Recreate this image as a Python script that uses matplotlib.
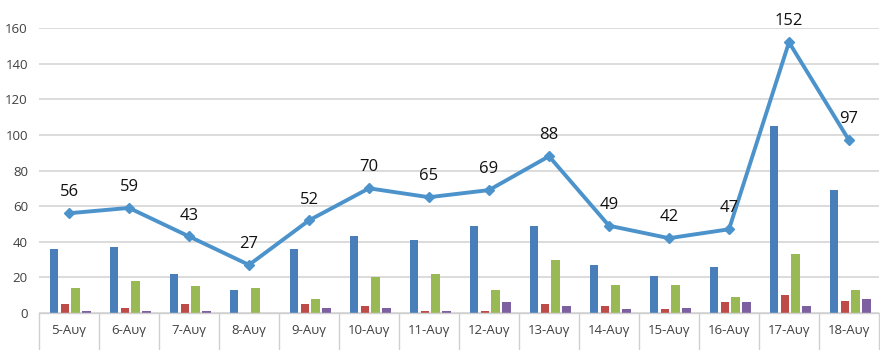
import matplotlib
matplotlib.use("Agg")
import matplotlib.pyplot as plt
import numpy as np

plt.rcParams['font.family'] = ['Open Sans', 'DejaVu Sans']

# Daily data
dates = ["5-Αυγ", "6-Αυγ", "7-Αυγ", "8-Αυγ", "9-Αυγ", "10-Αυγ", "11-Αυγ",
         "12-Αυγ", "13-Αυγ", "14-Αυγ", "15-Αυγ", "16-Αυγ", "17-Αυγ", "18-Αυγ"]
series_blue = [36, 37, 22, 13, 36, 43, 41, 49, 49, 27, 21, 26, 105, 69]
series_red = [5, 3, 5, 0, 5, 4, 1, 1, 5, 4, 2, 6, 10, 7]
series_green = [14, 18, 15, 14, 8, 20, 22, 13, 30, 16, 16, 9, 33, 13]
series_purple = [1, 1, 1, 0, 3, 3, 1, 6, 4, 2, 3, 6, 4, 8]
totals = [56, 59, 43, 27, 52, 70, 65, 69, 88, 49, 42, 47, 152, 97]
y_ticks = [0, 20, 40, 60, 80, 100, 120, 140, 160]

bar_series = [series_blue, series_red, series_green, series_purple]
bar_colors = ["#4A7EBB", "#BE4B48", "#98B954", "#7D60A0"]

fig = plt.figure(figsize=(8.8, 3.5), dpi=100)
ax = fig.add_axes([39 / 880, 37 / 350, 840 / 880, 285 / 350])

x = np.arange(len(dates))
pitch = 0.183
width = 0.14
offsets = (np.arange(4) - 1.5) * pitch + 0.02
for vals, col, off in zip(bar_series, bar_colors, offsets):
    ax.bar(x + off, vals, width=width, color=col, zorder=2)

ax.plot(x, totals, color="#4C93CC", lw=2.8, marker="D", markersize=5,
        markerfacecolor="#4C93CC", markeredgecolor="#4C93CC", zorder=3)
for xi, v in zip(x, totals):
    ax.annotate(str(v), (xi, v), xytext=(0, 15), textcoords="offset points",
                ha="center", va="center", fontsize=12, color="#111111",
                annotation_clip=False, zorder=4)

ax.set_xlim(-0.5, len(dates) - 0.5)
ax.set_ylim(0, 160)
ax.set_yticks(y_ticks)
ax.yaxis.grid(True, color="#D9D9D9", lw=1.3, zorder=0)
ax.set_axisbelow(True)

# category cells: long separators at boundaries, labels at centers
ax.set_xticks(np.arange(len(dates) + 1) - 0.5)
ax.set_xticklabels([])
ax.set_xticks(x, minor=True)
ax.set_xticklabels(dates, minor=True)
ax.tick_params(axis="x", which="major", length=27, width=1.0, color="#D0D0D0",
               direction="out")
ax.tick_params(axis="x", which="minor", length=0, pad=8, labelsize=9.5,
               labelcolor="#404040")
ax.tick_params(axis="y", length=0, pad=8, labelsize=9.5, labelcolor="#404040")

for side in ["top", "right", "left"]:
    ax.spines[side].set_visible(False)
ax.spines["bottom"].set_color("#D0D0D0")
ax.spines["bottom"].set_linewidth(1.0)

fig.savefig("out.png", dpi=100, facecolor="white")
